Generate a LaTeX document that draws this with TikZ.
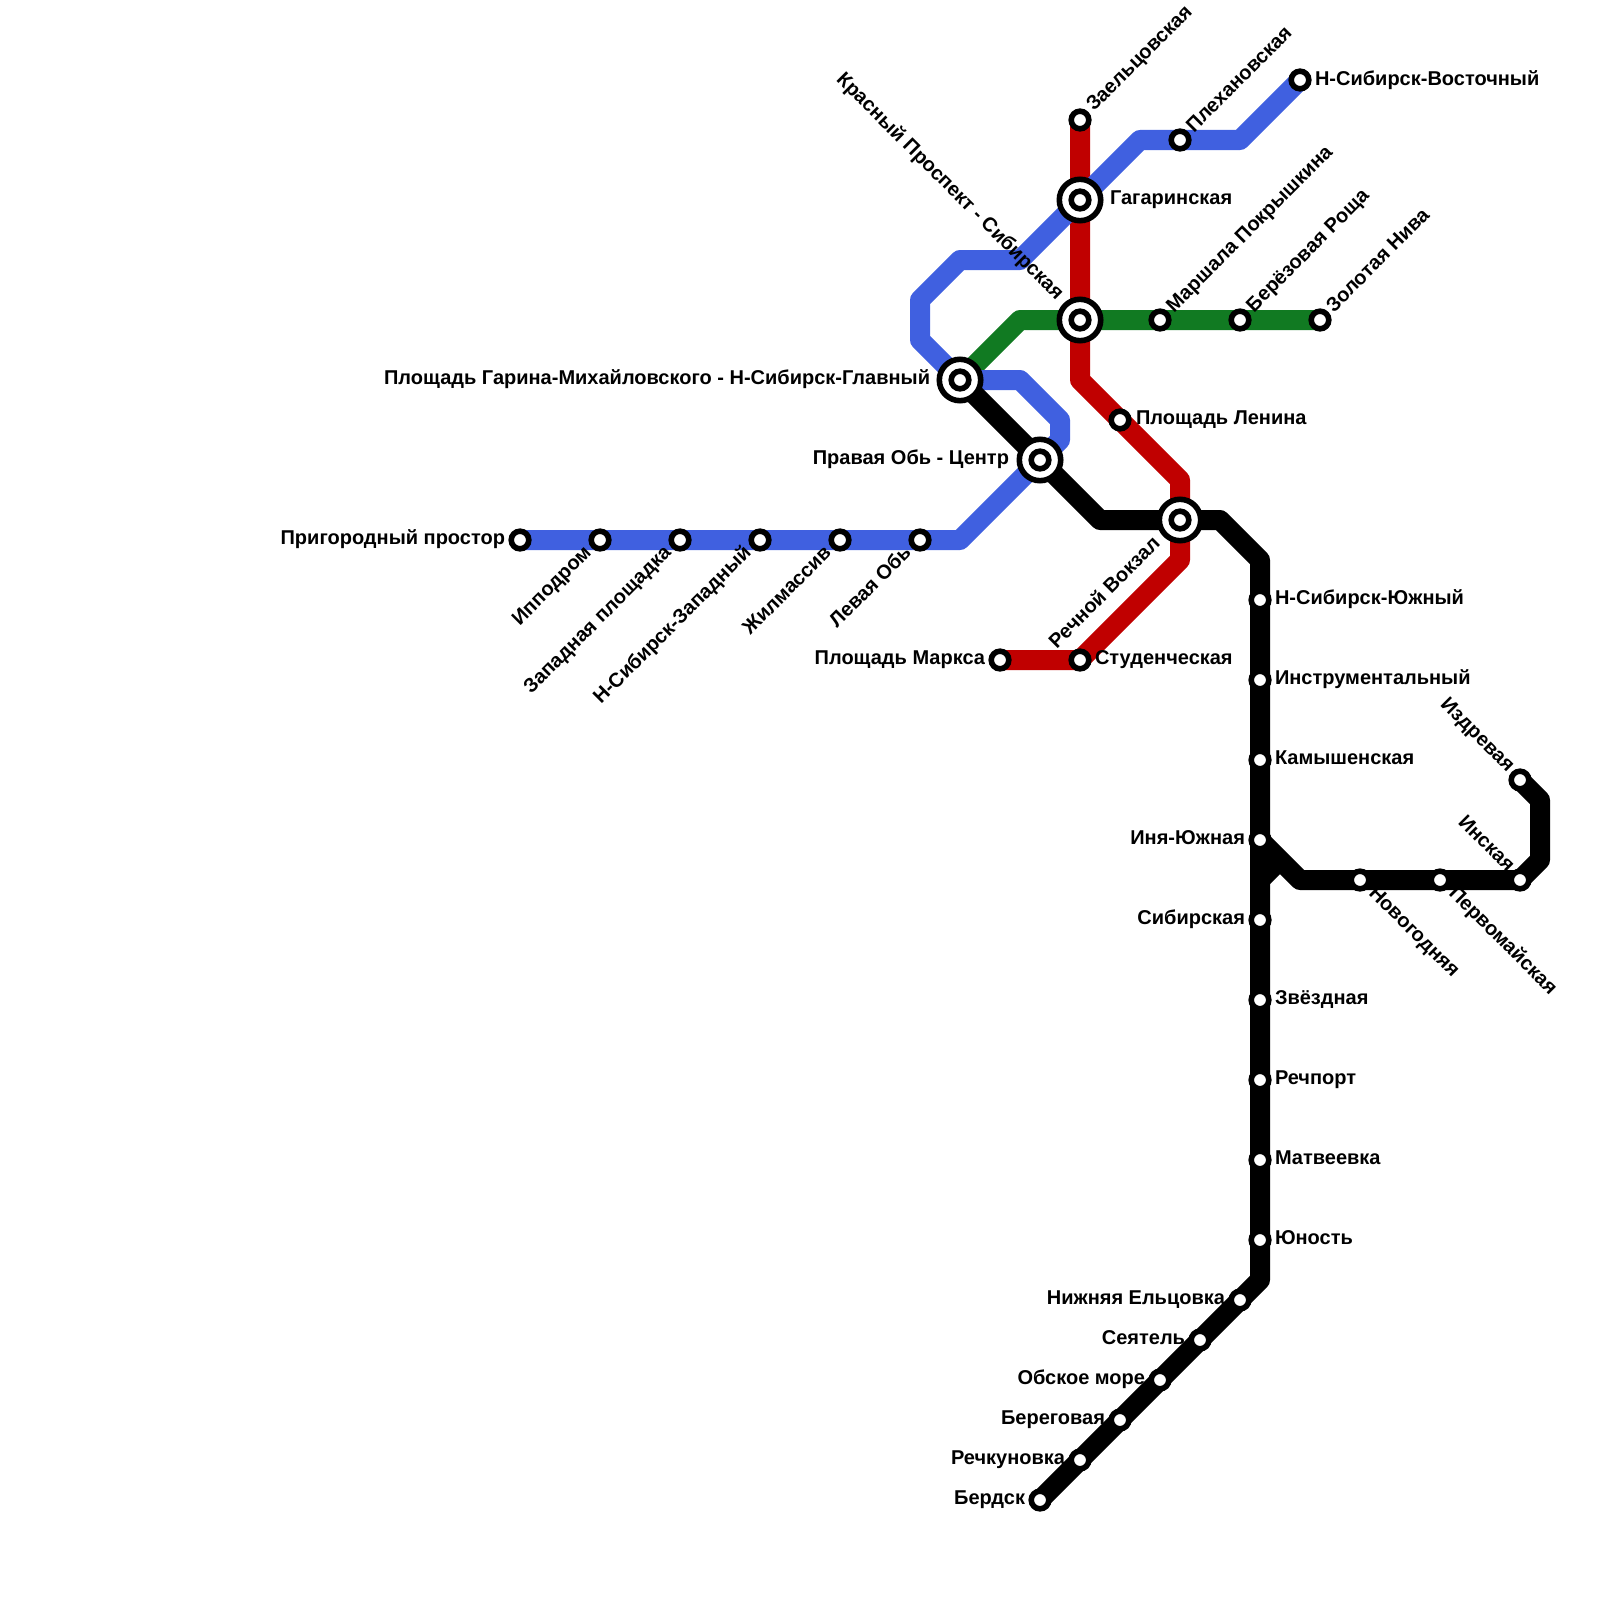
\documentclass[tikz,border=0pt]{standalone}
\usepackage{fontspec}
\setmainfont{Liberation Sans}
\usetikzlibrary{calc}
\pgfdeclarelayer{bg}
\pgfsetlayers{bg,main}
\definecolor{lblue}{HTML}{4060E0}
\definecolor{lred}{HTML}{C00000}
\definecolor{lgreen}{HTML}{117A22}
\tikzset{
  metro/.style={line width=20pt,line join=round,line cap=butt},
  stn/.style={circle,draw=black,fill=white,line width=5.6pt,minimum size=17.6pt,inner sep=0pt,outer sep=0pt},
  hubring/.style={circle,draw=black,fill=white,line width=5.6pt,minimum size=41.4pt,inner sep=0pt,outer sep=0pt},
  lab/.style={font=\fontsize{20}{22}\selectfont\bfseries,inner sep=0pt,outer sep=0pt,text=black}
}
\newcommand{\lab}[6]{\node[lab,anchor=base #4,rotate=#5] (#1-l) at ($(#1)+(#2,#3)$) {#6};}
\newcommand{\stat}[3]{\node[stn] (#1) at (#2,#3) {};}
\newcommand{\hub}[3]{\node[hubring] (#1-o) at (#2,#3) {};\node[stn] (#1) at (#2,#3) {};}
\begin{document}
\begin{tikzpicture}[x=1pt,y=-1pt]
\useasboundingbox (0,0) rectangle (1600,1600);
% bends
\coordinate (b1) at (960,540);
\coordinate (b2) at (1060,440);
\coordinate (b3) at (1060,420);
\coordinate (b4) at (1020,380);
\coordinate (b5) at (920,340);
\coordinate (b6) at (920,300);
\coordinate (b7) at (960,260);
\coordinate (b8) at (1020,260);
\coordinate (b9) at (1140,140);
\coordinate (b10) at (1240,140);
\coordinate (g1) at (1020,320);
\coordinate (r1) at (1080,380);
\coordinate (r2) at (1180,480);
\coordinate (r3) at (1180,560);
\coordinate (k1) at (1100,520);
\coordinate (k2) at (1220,520);
\coordinate (k3) at (1260,560);
\coordinate (k4) at (1260,1280);
\coordinate (k5) at (1300,880);
\coordinate (k6) at (1540,860);
\coordinate (k7) at (1540,800);
\coordinate (k8) at (1280,860);
% stations
\stat{prig}{520}{540}\stat{ippo}{600}{540}\stat{zapl}{680}{540}\stat{nszap}{760}{540}\stat{zhil}{840}{540}\stat{levo}{920}{540}
\stat{plek}{1180}{140}\stat{nsvo}{1300}{80}\stat{zael}{1080}{120}
\stat{mars}{1160}{320}\stat{bere}{1240}{320}\stat{zolo}{1320}{320}
\stat{lenn}{1120}{420}\stat{stud}{1080}{660}\stat{marx}{1000}{660}
\stat{nsyu}{1260}{600}\stat{inst}{1260}{680}\stat{kamy}{1260}{760}\stat{inya}{1260}{840}\stat{sibi}{1260}{920}
\stat{zvez}{1260}{1000}\stat{rech}{1260}{1080}\stat{matv}{1260}{1160}\stat{yuno}{1260}{1240}
\stat{nizh}{1240}{1300}\stat{seya}{1200}{1340}\stat{obsk}{1160}{1380}\stat{bery}{1120}{1420}\stat{reck}{1080}{1460}\stat{berd}{1040}{1500}
\stat{novo}{1360}{880}\stat{perv}{1440}{880}\stat{insk}{1520}{880}\stat{izdr}{1520}{780}
\hub{gaga}{1080}{200}\hub{kras}{1080}{320}\hub{gari}{960}{380}\hub{prav}{1040}{460}\hub{rvok}{1180}{520}
% lines
\begin{pgfonlayer}{bg}
\fill[white] (0,0) rectangle (1600,1600);
\draw[metro,lred] (zael.center) -- (gaga.center) -- (kras.center) -- (r1) -- (lenn.center) -- (r2) -- (rvok.center) -- (r3) -- (stud.center) -- (marx.center);
\draw[metro,lgreen] (gari.center) -- (g1) -- (kras.center) -- (mars.center) -- (bere.center) -- (zolo.center);
\draw[metro,lblue] (prig.center) -- (b1) -- (prav.center) -- (b2) -- (b3) -- (b4) -- (gari.center) -- (b5) -- (b6) -- (b7) -- (b8) -- (gaga.center) -- (b9) -- (b10) -- (nsvo.center);
\draw[metro,black] (gari.center) -- (prav.center) -- (k1) -- (k2) -- (k3) -- (k4) -- (berd.center);
\draw[metro,black] (inya.center) -- (k5) -- (insk.center) -- (k6) -- (k7) -- (izdr.center);
\draw[metro,black] (sibi.center |- 0,880) -- (k8);
\end{pgfonlayer}
% labels
\lab{prig}{-15}{4.5}{east}{0}{Пригородный простор}
\lab{ippo}{-8}{14}{east}{45}{Ипподром}
\lab{zapl}{-8}{14}{east}{45}{Западная площадка}
\lab{nszap}{-8}{14}{east}{45}{Н-Сибирск-Западный}
\lab{zhil}{-8}{14}{east}{45}{Жилмассив}
\lab{levo}{-8}{14}{east}{45}{Левая Обь}
\lab{zael}{14}{-8}{west}{45}{Заельцовская}
\lab{plek}{14}{-7}{west}{45}{Плехановская}
\lab{nsvo}{15}{5.5}{west}{0}{Н-Сибирск-Восточный}
\lab{gaga}{30}{4.5}{west}{0}{Гагаринская}
\lab{kras}{-24}{-19}{east}{-45}{Красный Проспект - Сибирская}
\lab{mars}{14}{-7}{west}{45}{Маршала Покрышкина}
\lab{bere}{14}{-7}{west}{45}{Берёзовая Роща}
\lab{zolo}{14}{-7}{west}{45}{Золотая Нива}
\lab{gari}{-30}{4.5}{east}{0}{Площадь Гарина-Михайловского - Н-Сибирск-Главный}
\lab{lenn}{16}{4.5}{west}{0}{Площадь Ленина}
\lab{prav}{-31}{4.5}{east}{0}{Правая Обь - Центр}
\lab{rvok}{-19}{25}{east}{45}{Речной Вокзал}
\lab{marx}{-15}{4.5}{east}{0}{Площадь Маркса}
\lab{stud}{15}{4.5}{west}{0}{Студенческая}
\lab{nsyu}{15}{4.5}{west}{0}{Н-Сибирск-Южный}
\lab{inst}{15}{4.5}{west}{0}{Инструментальный}
\lab{kamy}{15}{4.5}{west}{0}{Камышенская}
\lab{inya}{-15}{4.5}{east}{0}{Иня-Южная}
\lab{sibi}{-15}{4.5}{east}{0}{Сибирская}
\lab{zvez}{15}{4.5}{west}{0}{Звёздная}
\lab{rech}{15}{4.5}{west}{0}{Речпорт}
\lab{matv}{15}{4.5}{west}{0}{Матвеевка}
\lab{yuno}{15}{4.5}{west}{0}{Юность}
\lab{nizh}{-15}{4.5}{east}{0}{Нижняя Ельцовка}
\lab{seya}{-15}{4.5}{east}{0}{Сеятель}
\lab{obsk}{-15}{4.5}{east}{0}{Обское море}
\lab{bery}{-15}{4.5}{east}{0}{Береговая}
\lab{reck}{-15}{4.5}{east}{0}{Речкуновка}
\lab{berd}{-15}{4.5}{east}{0}{Бердск}
\lab{novo}{8}{14}{west}{-45}{Новогодняя}
\lab{perv}{8}{14}{west}{-45}{Первомайская}
\lab{insk}{-13}{-7}{east}{-45}{Инская}
\lab{izdr}{-13}{-7}{east}{-45}{Издревая}
\end{tikzpicture}
\end{document}
